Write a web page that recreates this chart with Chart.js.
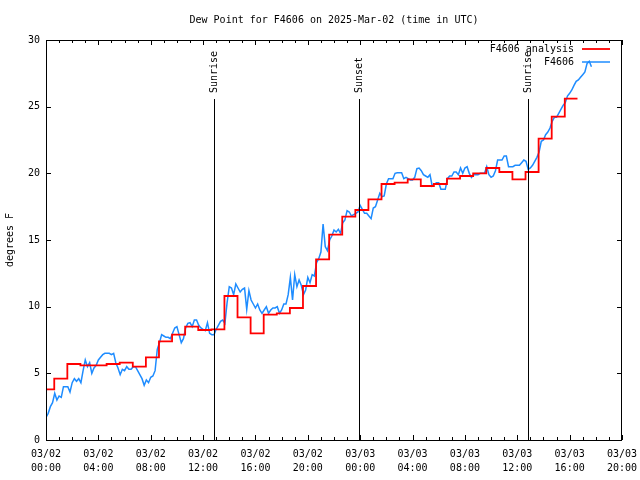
<!DOCTYPE html>
<html>
<head>
<meta charset="utf-8">
<script src="https://cdn.jsdelivr.net/npm/chart.js@4.4.0/dist/chart.umd.min.js"></script>
<style>
  html, body { margin: 0; padding: 0; background: #fff; }
</style>
</head>
<body>
<canvas id="grafica" width="640" height="480"></canvas>
<script>
// Datos (horas desde 03/02 00:00 UTC)
const titulo = 'Dew Point for F4606 on 2025-Mar-02 (time in UTC)';
const etiquetaY = 'degrees F';

const tickHoras = [0, 4, 8, 12, 16, 20, 24, 28, 32, 36, 40, 44];
const tickFechas = ['03/02', '03/02', '03/02', '03/02', '03/02', '03/02', '03/03', '03/03', '03/03', '03/03', '03/03', '03/03'];
const tickTiempos = ['00:00', '04:00', '08:00', '12:00', '16:00', '20:00', '00:00', '04:00', '08:00', '12:00', '16:00', '20:00'];

// F4606: una lectura cada 10 minutos
const obsPasoMin = 10;
const obsValores = [
  1.7, 2.0, 2.5, 2.8, 3.5, 3.0,
  3.3, 3.2, 4.0, 4.0, 4.0, 3.6,
  4.3, 4.6, 4.4, 4.6, 4.3, 5.2,
  6.0, 5.5, 5.8, 5.0, 5.4, 5.6,
  6.0, 6.2, 6.4, 6.5, 6.5, 6.5,
  6.4, 6.5, 5.8, 5.4, 4.9, 5.3,
  5.2, 5.5, 5.3, 5.3, 5.5, 5.5,
  5.2, 4.9, 4.6, 4.1, 4.5, 4.3,
  4.7, 4.8, 5.2, 6.8, 7.3, 7.9,
  7.8, 7.7, 7.7, 7.6, 8.0, 8.4,
  8.5, 7.9, 7.3, 7.6, 8.4, 8.75,
  8.8, 8.5, 9.0, 9.0, 8.6, 8.4,
  8.3, 8.2, 8.8, 8.0, 7.9, 7.9,
  8.3, 8.6, 8.9, 9.0, 8.75, 10.3,
  11.5, 11.4, 10.9, 11.7, 11.4, 11.1,
  11.3, 11.4, 9.8, 11.2, 10.5, 10.2,
  9.9, 10.2, 9.75, 9.5, 9.75, 10.0,
  9.5, 9.75, 9.9, 9.9, 10.0, 9.5,
  9.75, 10.2, 10.2, 10.9, 12.2, 10.5,
  12.4, 11.5, 12.0, 11.6, 10.9, 11.25,
  12.2, 11.8, 12.4, 12.3, 13.3, 13.6,
  14.1, 16.2, 14.5, 14.2, 15.0, 15.3,
  15.75, 15.6, 15.8, 15.5, 16.3, 16.5,
  17.2, 17.1, 16.8, 16.9, 17.0, 17.1,
  17.6, 17.3, 17.0, 17.0, 16.8, 16.6,
  17.4, 17.5, 18.0, 18.5, 18.25, 18.3,
  19.2, 19.6, 19.6, 19.6, 20.0, 20.05,
  20.05, 20.05, 19.6, 19.7, 19.6, 19.5,
  19.5, 19.7, 20.35, 20.4, 20.2, 19.9,
  19.8, 19.7, 19.9, 19.05, 19.2, 19.3,
  19.3, 18.8, 18.8, 18.8, 19.6, 19.8,
  19.8, 20.1, 20.1, 19.9, 20.4, 20.0,
  20.4, 20.5, 20.0, 19.7, 19.9, 19.9,
  19.9, 20.0, 20.0, 20.0, 20.5, 19.9,
  19.7, 19.8, 20.2, 21.0, 21.0, 21.0,
  21.3, 21.3, 20.5, 20.5, 20.5, 20.6,
  20.6, 20.6, 20.8, 21.0, 20.9, 20.3,
  20.4, 20.6, 20.9, 21.2, 21.6, 22.4,
  22.5, 22.9, 23.1, 23.4, 23.9, 24.2,
  24.2, 24.5, 24.8, 25.1, 25.3, 25.8,
  26.0, 26.25, 26.6, 26.9, 27.0, 27.2,
  27.4, 27.6, 28.25, 28.4, 28.0
];

// F4606 analysis: valor escalonado, cada valor rige desde su hora
const analisisHoras = [
  0, 0.63, 1.63, 2.63, 3.63, 4.63, 5.63, 6.63, 7.63, 8.63,
  9.63, 10.63, 11.63, 12.63, 13.63, 14.63, 15.63, 16.63, 17.63, 18.63,
  19.63, 20.63, 21.63, 22.63, 23.63, 24.63, 25.63, 26.63, 27.63, 28.63,
  29.63, 30.63, 31.63, 32.63, 33.63, 34.63, 35.63, 36.63, 37.63, 38.63,
  39.63, 40.6
];
const analisisValores = [
  3.8, 4.6, 5.7, 5.6, 5.6, 5.7, 5.8, 5.5, 6.2, 7.4,
  7.9, 8.5, 8.25, 8.3, 10.8, 9.2, 8.0, 9.4, 9.5, 9.9,
  11.55, 13.55, 15.4, 16.75, 17.25, 18.05, 19.2, 19.3, 19.55, 19.05,
  19.2, 19.6, 19.8, 20.0, 20.4, 20.1, 19.55, 20.1, 22.6, 24.25,
  25.6, 25.6
];

const solEventos = ['Sunrise', 'Sunset', 'Sunrise'];
const solHoras = [12.85, 23.93, 36.85];
const solAltura = 25.6;

const fuente = { family: "'DejaVu Sans Mono', 'Liberation Mono', monospace", size: 10 };

const datosObs = obsValores.map((v, i) => ({ x: i * obsPasoMin / 60, y: v }));
const datosAnalisis = analisisValores.map((v, i) => ({ x: analisisHoras[i], y: v }));

// Titulo, marco, marcas hacia dentro, lineas de sol y leyenda
const marcos = {
  id: 'marcos',
  afterDatasetsDraw(chart) {
    const { ctx, chartArea: a, scales: { x, y } } = chart;
    ctx.save();
    ctx.strokeStyle = '#000';
    ctx.fillStyle = '#000';
    ctx.lineWidth = 1;
    ctx.font = '10px ' + fuente.family;

    // titulo centrado sobre el area de la grafica
    ctx.textAlign = 'center';
    ctx.textBaseline = 'middle';
    ctx.fillText(titulo, (a.left + a.right) / 2, 20);

    // lineas de amanecer / atardecer
    solHoras.forEach((h, i) => {
      const px = Math.round(x.getPixelForValue(h)) + 0.5;
      const top = Math.round(y.getPixelForValue(solAltura));
      ctx.beginPath();
      ctx.moveTo(px, a.bottom);
      ctx.lineTo(px, top);
      ctx.stroke();
      ctx.save();
      ctx.translate(px, top - 6);
      ctx.rotate(-Math.PI / 2);
      ctx.textAlign = 'left';
      ctx.textBaseline = 'middle';
      ctx.fillText(solEventos[i], 0, 0);
      ctx.restore();
    });

    // marco
    ctx.strokeRect(a.left + 0.5, a.top + 0.5, a.right - a.left - 1, a.bottom - a.top);

    // marcas eje x (cada hora, mayores cada 4)
    ctx.beginPath();
    for (let h = x.min; h <= x.max; h += 1) {
      const len = h % 4 === 0 ? 5 : 3;
      const px = Math.round(x.getPixelForValue(h)) + 0.5;
      ctx.moveTo(px, a.bottom);
      ctx.lineTo(px, a.bottom - len);
      ctx.moveTo(px, a.top);
      ctx.lineTo(px, a.top + len);
    }
    // marcas eje y
    for (let v = y.min; v <= y.max; v += 5) {
      const py = Math.round(y.getPixelForValue(v)) + 0.5;
      ctx.moveTo(a.left, py);
      ctx.lineTo(a.left + 5, py);
      ctx.moveTo(a.right, py);
      ctx.lineTo(a.right - 5, py);
    }
    ctx.stroke();

    // leyenda
    ctx.textAlign = 'right';
    ctx.textBaseline = 'middle';
    chart.data.datasets.forEach((ds, i) => {
      const ly = a.top + 9 + i * 13;
      ctx.fillStyle = '#000';
      ctx.fillText(ds.label, a.right - 48, ly);
      ctx.strokeStyle = ds.borderColor;
      ctx.lineWidth = ds.borderWidth;
      ctx.beginPath();
      ctx.moveTo(a.right - 40, ly);
      ctx.lineTo(a.right - 12, ly);
      ctx.stroke();
    });
    ctx.restore();
  }
};

function setupChart() {
  const ctx = document.getElementById('grafica').getContext('2d');
  new Chart(ctx, {
    type: 'line',
    data: {
      datasets: [{
        label: 'F4606 analysis',
        data: datosAnalisis,
        borderColor: '#ff0000',
        borderWidth: 1.8,
        stepped: 'before',
        pointRadius: 0
      }, {
        label: 'F4606',
        data: datosObs,
        borderColor: '#1e8cff',
        borderWidth: 1.5,
        pointRadius: 0,
        tension: 0
      }]
    },
    options: {
      responsive: false,
      animation: false,
      layout: { padding: { left: 0, right: 18, top: 40, bottom: 0 } },
      plugins: {
        legend: { display: false },
        tooltip: { enabled: false },
        title: { display: false }
      },
      scales: {
        x: {
          type: 'linear',
          min: 0,
          max: 44,
          afterFit: (s) => { s.height = 40; s.paddingLeft = 0; s.paddingRight = 0; },
          grid: { display: false, drawTicks: false },
          border: { display: false },
          ticks: {
            stepSize: 4,
            autoSkip: false,
            maxRotation: 0,
            padding: 7,
            color: '#000',
            font: { family: fuente.family, size: 10, lineHeight: 1.4 },
            callback: (v) => {
              const i = tickHoras.indexOf(v);
              return i < 0 ? '' : [tickFechas[i], tickTiempos[i]];
            }
          }
        },
        y: {
          min: 0,
          max: 30,
          afterFit: (s) => { s.width = 46; },
          grid: { display: false, drawTicks: false },
          border: { display: false },
          ticks: {
            stepSize: 5,
            padding: 6,
            color: '#000',
            font: fuente
          },
          title: {
            display: true,
            text: etiquetaY,
            color: '#000',
            font: fuente,
            padding: { top: 4, bottom: 0 }
          }
        }
      }
    },
    plugins: [marcos]
  });
}

document.addEventListener('DOMContentLoaded', setupChart);
</script>
</body>
</html>
